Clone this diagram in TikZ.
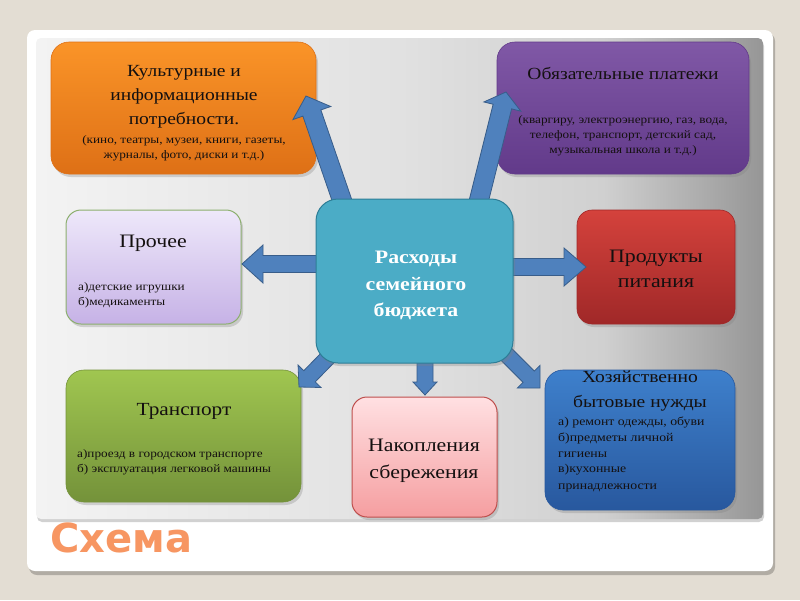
\documentclass[tikz,border=0pt]{standalone}
\usepackage{fontspec}
\setmainfont[FakeStretch=1.15]{Liberation Serif}
\newfontfamily\schemafont{DejaVu Sans}
\usetikzlibrary{calc,shadows}
\definecolor{bgc}{RGB}{227,221,211}
\definecolor{pA}{RGB}{243,243,243}
\definecolor{pB}{RGB}{225,225,225}
\definecolor{pC}{RGB}{208,208,208}
\definecolor{pD}{RGB}{150,150,150}
\definecolor{orT}{RGB}{250,148,40}
\definecolor{orB}{RGB}{222,112,22}
\definecolor{puT}{RGB}{128,88,166}
\definecolor{puB}{RGB}{98,58,138}
\definecolor{lvT}{RGB}{238,232,250}
\definecolor{lvB}{RGB}{198,178,230}
\definecolor{lvD}{RGB}{140,175,110}
\definecolor{ceF}{RGB}{75,172,198}
\definecolor{ceD}{RGB}{45,125,150}
\definecolor{rdT}{RGB}{212,66,60}
\definecolor{rdB}{RGB}{160,40,40}
\definecolor{grT}{RGB}{160,198,80}
\definecolor{grB}{RGB}{116,146,58}
\definecolor{pkT}{RGB}{255,224,226}
\definecolor{pkB}{RGB}{245,158,160}
\definecolor{pkD}{RGB}{190,78,76}
\definecolor{blT}{RGB}{62,128,204}
\definecolor{blB}{RGB}{40,88,158}
\definecolor{arF}{RGB}{79,129,189}
\definecolor{arD}{RGB}{56,93,138}
\definecolor{txc}{RGB}{20,16,16}
\definecolor{schemac}{RGB}{247,150,98}
\pgfdeclarehorizontalshading{panelshade}{100bp}{color(0bp)=(pA); color(25bp)=(pA); color(50bp)=(pB); color(64bp)=(pC); color(75bp)=(pD); color(100bp)=(pD)}
\newcommand\blockarr[5]{%
  \coordinate (hb) at ($(#2)!#5!(#1)$);
  \filldraw[arrowstyle] ($(#1)!#3!90:(#2)$) -- ($(hb)!#3!-90:(#1)$) -- ($(hb)!#4!-90:(#1)$) -- (#2)
    -- ($(hb)!#4!90:(#1)$) -- ($(hb)!#3!90:(#1)$) -- ($(#1)!#3!-90:(#2)$) -- cycle;}
\tikzset{
  box/.style={rounded corners=18pt, inner sep=0pt, draw=#1, line width=0.6pt,
    drop shadow={opacity=0.3, shadow xshift=2pt, shadow yshift=-3pt}},
  arrowstyle/.style={fill=arF, draw=arD, line width=0.8pt, line join=miter},
  txt/.style={anchor=base, inner sep=0pt, text=txc},
  ltxt/.style={anchor=base west, inner sep=0pt, text=txc},
  big/.style={font=\fontsize{17}{20}\selectfont},
  bigg/.style={font=\fontsize{19}{22}\selectfont},
  small/.style={font=\fontsize{11.5}{14}\selectfont},
}
\begin{document}
\begin{tikzpicture}[x=1pt,y=-1pt]
\useasboundingbox (0,0) rectangle (800,600);
\fill[bgc] (0,0) rectangle (800,600);
% white panel
\fill[black, opacity=0.22, rounded corners=8pt] (29,33) rectangle (775,575);
\fill[white, rounded corners=8pt] (27,30) rectangle (773,571);
\fill[black, opacity=0.18, rounded corners=5pt] (37,41) rectangle (764,522);
\shade[shading=panelshade, rounded corners=5pt] (36,38) rectangle (763,519);
% boxes
\node[box=orB, minimum width=265pt, minimum height=132pt, top color=orT, bottom color=orB] (cult) at (183.5,108) {};
\node[box=puB, minimum width=252pt, minimum height=132pt, top color=puT, bottom color=puB] (oblig) at (623,108) {};
\node[box=lvD, rounded corners=15pt, line width=1pt, minimum width=175pt, minimum height=114pt, top color=lvT, bottom color=lvB] (proch) at (153.5,267) {};
\node[box=rdB, rounded corners=15pt, minimum width=158pt, minimum height=114pt, top color=rdT, bottom color=rdB] (prod) at (656,267) {};
\node[box=grB, minimum width=235pt, minimum height=132pt, top color=grT, bottom color=grB] (trans) at (183.5,436) {};
\node[box=pkD, rounded corners=15pt, line width=1pt, minimum width=145pt, minimum height=120pt, top color=pkT, bottom color=pkB] (nakop) at (424.5,457) {};
\node[box=blB, minimum width=190pt, minimum height=140pt, top color=blT, bottom color=blB] (hoz) at (640,440) {};
% arrows
\coordinate (s1) at (346,212); \coordinate (e1) at (306,96);
\coordinate (s2) at (476,212); \coordinate (e2) at (506,92);
\coordinate (s3) at (330,264); \coordinate (e3) at (242,264);
\coordinate (s4) at (500,267); \coordinate (e4) at (586,267);
\coordinate (s5) at (345,340); \coordinate (e5) at (299,387);
\coordinate (s6) at (425,350); \coordinate (e6) at (425,395);
\coordinate (s7) at (492,340); \coordinate (e7) at (540,388);
\blockarr{s1}{e1}{9.5pt}{20pt}{18pt}
\blockarr{s2}{e2}{9.5pt}{19pt}{15pt}
\blockarr{s3}{e3}{8.5pt}{19pt}{21pt}
\blockarr{s4}{e4}{8.5pt}{19pt}{22pt}
\blockarr{s5}{e5}{8pt}{16pt}{15pt}
\blockarr{s6}{e6}{8pt}{12pt}{13pt}
\blockarr{s7}{e7}{8pt}{16pt}{16pt}
% center box
\node[box=ceD, rounded corners=22pt, line width=1pt, minimum width=197pt, minimum height=164pt, fill=ceF] (center) at (414.5,281) {};
% texts
\node[txt, big] (c1) at (184,76) {Культурные и};
\node[txt, big] (c2) at (184,100) {информационные};
\node[txt, big] (c3) at (184,124) {потребности.};
\node[txt, small] (c4) at (184,143) {(кино, театры, музеи, книги, газеты,};
\node[txt, small] (c5) at (184,158) {журналы, фото, диски и т.д.)};
\node[txt, big] (o1) at (623,79) {Обязательные платежи};
\node[txt, small] (o2) at (623,123) {(кваргиру, электроэнергию, газ, вода,};
\node[txt, small] (o3) at (623,138) {телефон, транспорт, детский сад,};
\node[txt, small] (o4) at (623,153) {музыкальная школа и т.д.)};
\node[txt, bigg] (p1) at (153,247) {Прочее};
\node[ltxt, small] (p2) at (78,290) {а)детские игрушки};
\node[ltxt, small] (p3) at (78,305) {б)медикаменты};
\node[txt, bigg, text=white, font=\fontsize{19}{22}\selectfont\bfseries] (m1) at (416,263) {Расходы};
\node[txt, bigg, text=white, font=\fontsize{19}{22}\selectfont\bfseries] (m2) at (416,290) {семейного};
\node[txt, bigg, text=white, font=\fontsize{19}{22}\selectfont\bfseries] (m3) at (416,316) {бюджета};
\node[txt, bigg] (r1) at (656,262) {Продукты};
\node[txt, bigg] (r2) at (656,287) {питания};
\node[txt, font=\fontsize{18.5}{22}\selectfont] (t1) at (184,415) {Транспорт};
\node[ltxt, small] (t2) at (77,457) {а)проезд в городском транспорте};
\node[ltxt, small] (t3) at (77,472) {б) эксплуатация легковой машины};
\node[txt, bigg] (n1) at (424,451) {Накопления};
\node[txt, bigg] (n2) at (424,478) {сбережения};
\node[txt, big] (h1) at (640,382) {Хозяйственно};
\node[txt, big] (h2) at (640,407) {бытовые нужды};
\node[ltxt, font=\fontsize{12}{14}\selectfont] (h3) at (558,425) {а) ремонт одежды, обуви};
\node[ltxt, font=\fontsize{12}{14}\selectfont] (h4) at (558,441) {б)предметы личной};
\node[ltxt, font=\fontsize{12}{14}\selectfont] (h5) at (558,457) {гигиены};
\node[ltxt, font=\fontsize{12}{14}\selectfont] (h6) at (558,472) {в)кухонные};
\node[ltxt, font=\fontsize{12}{14}\selectfont] (h7) at (558,489) {принадлежности};
% title
\node[anchor=base west, inner sep=0pt, text=schemac, font=\schemafont\bfseries\fontsize{40}{40}\selectfont] (schema) at (50,552) {Схема};
\end{tikzpicture}
\end{document}
